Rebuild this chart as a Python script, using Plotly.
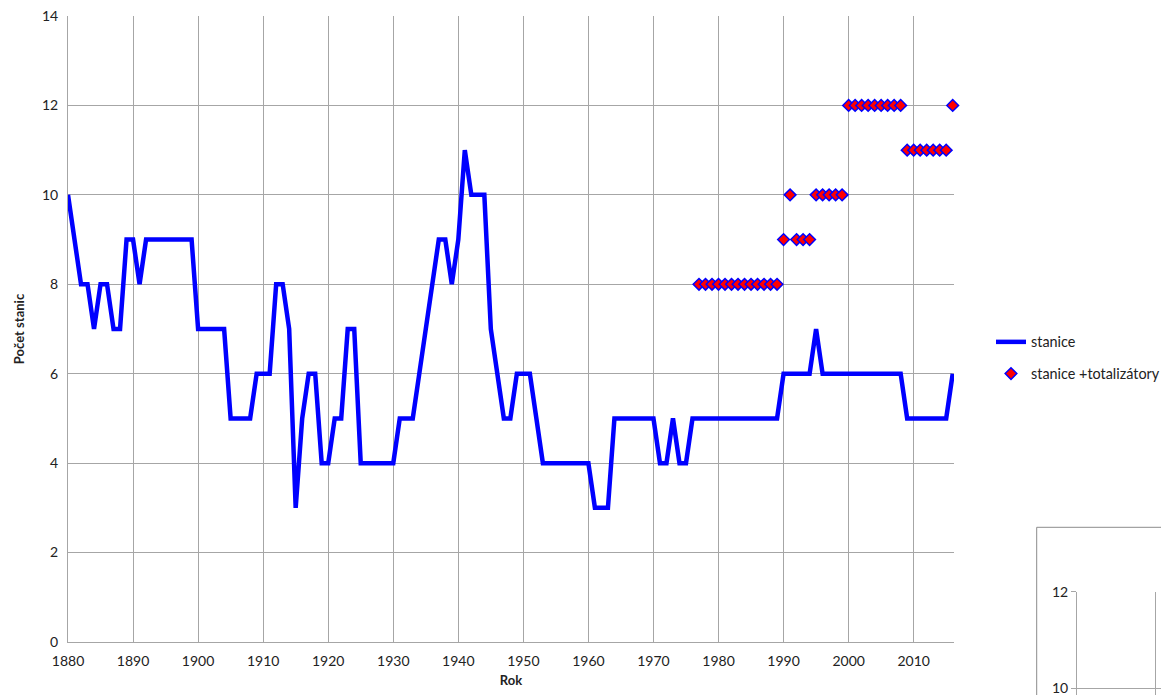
import plotly.graph_objects as go

# ---- data ----
years = list(range(1880, 2017))
stanice = [
    10, 9, 8, 8, 7, 8, 8, 7, 7, 9,      # 1880s
    9, 8, 9, 9, 9, 9, 9, 9, 9, 9,       # 1890s
    7, 7, 7, 7, 7, 5, 5, 5, 5, 6,       # 1900s
    6, 6, 8, 8, 7, 3, 5, 6, 6, 4,       # 1910s
    4, 5, 5, 7, 7, 4, 4, 4, 4, 4,       # 1920s
    4, 5, 5, 5, 6, 7, 8, 9, 9, 8,       # 1930s
    9, 11, 10, 10, 10, 7, 6, 5, 5, 6,   # 1940s
    6, 6, 5, 4, 4, 4, 4, 4, 4, 4,       # 1950s
    4, 3, 3, 3, 5, 5, 5, 5, 5, 5,       # 1960s
    5, 4, 4, 5, 4, 4, 5, 5, 5, 5,       # 1970s
    5, 5, 5, 5, 5, 5, 5, 5, 5, 5,       # 1980s
    6, 6, 6, 6, 6, 7, 6, 6, 6, 6,       # 1990s
    6, 6, 6, 6, 6, 6, 6, 6, 6, 5,       # 2000s
    5, 5, 5, 5, 5, 5, 6,                # 2010s
]
tot_years = list(range(1977, 2017))
stanice_tot = [
    8, 8, 8,                            # 1977-1979
    8, 8, 8, 8, 8, 8, 8, 8, 8, 8,       # 1980s
    9, 10, 9, 9, 9, 10, 10, 10, 10, 10, # 1990s
    12, 12, 12, 12, 12, 12, 12, 12, 12, 11,  # 2000s
    11, 11, 11, 11, 11, 11, 12,         # 2010s
]
x_ticks = list(range(1880, 2011, 10))
y_ticks = list(range(0, 15, 2))
inset_y_ticks = [10, 12]

W, H = 1169, 695
OFF = 8  # page body margin
FONT = "Lato, 'Noto Sans', sans-serif"
GRID = "#a6a6a6"
NOTICK = "rgba(0,0,0,0)"


def fx(sx):
    return (sx - OFF) / W


def fy(sy):
    return 1 - (sy - OFF) / H


fig = go.Figure()
fig.add_trace(go.Scatter(
    x=years, y=stanice, mode="lines", name="stanice", legendgroup="a",
    line=dict(color="#0000FF", width=4.5),
))
fig.add_trace(go.Scatter(
    x=tot_years, y=stanice_tot, mode="markers", name="stanice +totalizátory",
    legendgroup="b",
    marker=dict(symbol="diamond", size=9, color="#FF0000",
                line=dict(color="#0000FF", width=1.5)),
    cliponaxis=False,
))
# inset fragment axes (partial second chart at bottom-right)
fig.add_trace(go.Scatter(x=[None], y=[None], xaxis="x2", yaxis="y2",
                         showlegend=False, hoverinfo="skip"))

px_l, px_r, px_t, px_b = 68, 954, 16, 642

fig.update_layout(
    width=W, height=H,
    margin=dict(l=0, r=0, t=0, b=0, autoexpand=False),
    paper_bgcolor="white", plot_bgcolor="white",
    font=dict(family=FONT, size=14, color="#222"),
    showlegend=True,
    legend=dict(x=fx(991), y=fy(358), xanchor="left", yanchor="middle",
                font=dict(size=14.4, color="#222"), bgcolor="rgba(0,0,0,0)",
                tracegroupgap=10),
    xaxis=dict(
        domain=[fx(px_l), fx(px_r)], range=[1880, 2016.2], automargin=False,
        tickvals=x_ticks, showgrid=True, gridcolor=GRID, gridwidth=1,
        showline=True, linecolor=GRID, linewidth=1,
        ticks="outside", ticklen=6, tickcolor=NOTICK,
        ticklabeloverflow="allow",
        zeroline=False, tickfont=dict(size=14, color="#222"),
        title=dict(text="<b>Rok</b>", font=dict(size=13, color="#222"), standoff=8),
    ),
    yaxis=dict(
        domain=[fy(px_b), fy(px_t)], range=[0, 14], automargin=False,
        tickvals=y_ticks, showgrid=True, gridcolor=GRID, gridwidth=1,
        showline=True, linecolor=GRID, linewidth=1,
        ticks="outside", ticklen=6, tickcolor=NOTICK,
        ticklabeloverflow="allow",
        zeroline=False, tickfont=dict(size=14, color="#222"),
        title=dict(text="<b>Počet stanic</b>", font=dict(size=13, color="#222"), standoff=14),
    ),
    xaxis2=dict(
        domain=[fx(1077), 1.0], range=[0, 1.27], anchor="y2", automargin=False,
        tickvals=[1], showticklabels=False, showgrid=True, gridcolor=GRID,
        showline=True, linecolor=GRID, zeroline=False,
    ),
    yaxis2=dict(
        domain=[0, fy(591.7)], range=[9.696, 12], anchor="x2", automargin=False,
        tickvals=inset_y_ticks, showgrid=True, gridcolor=GRID,
        showline=True, linecolor=GRID, zeroline=False,
        ticks="outside", ticklen=5, tickcolor=GRID,
        ticklabeloverflow="allow",
        tickfont=dict(size=14, color="#222"),
    ),
    shapes=[dict(type="rect", xref="paper", yref="paper",
                 x0=fx(1036.7), x1=1.02, y0=-0.05, y1=fy(527.3),
                 line=dict(color="#8c8c8c", width=1), fillcolor="white",
                 layer="below")],
)

fig.write_html("out.html")
